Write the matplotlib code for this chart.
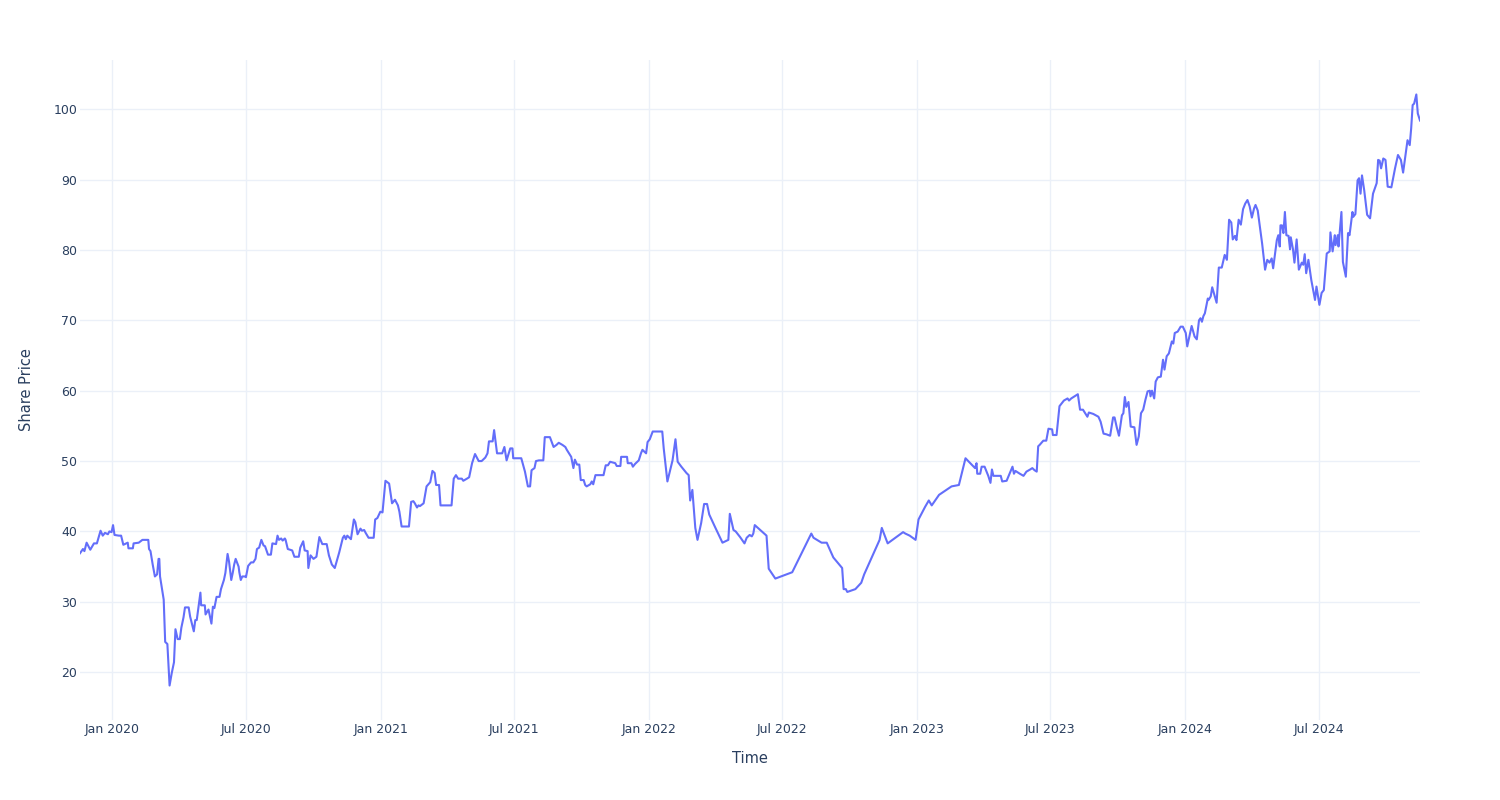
import pandas as pd
import matplotlib.pyplot as plt
import matplotlib.dates as mdates

# Share price series, days counted from 2020-01-01
start = pd.Timestamp('2020-01-01')

days = [
    -44, -40, -38, -35, -30, -25, -21, -16, -13, -10, -6, -4, -1, 1, 3, 9, 12, 15, 19, 21,
    22, 28, 29, 36, 41, 49, 50, 52, 55, 58, 61, 63, 64, 65, 70, 72, 75, 78, 81, 84,
    86, 89, 92, 94, 97, 99, 104, 106, 111, 113, 115, 120, 121, 126, 127, 131, 135, 137, 139, 142,
    146, 148, 152, 154, 157, 159, 162, 164, 166, 168, 172, 173, 175, 177, 181,
    182, 185, 189, 192, 195, 197, 200, 203, 206, 208, 212, 216, 218, 223, 225, 227, 230, 232, 235, 236,
    239, 245, 248, 254, 256, 260, 262, 266, 267, 270, 274, 278, 282, 286, 292, 295, 299, 303, 309, 314,
    316, 318, 320, 325, 329, 331, 334, 338, 340, 343, 345, 349, 356, 358, 361, 365, 368, 372, 377, 381,
    385, 389, 391, 394, 404, 407, 410,
    412, 415, 417, 419, 424, 428, 433, 436, 439, 441, 445, 447, 462, 465, 468, 471, 476, 478, 483, 486,
    490, 494, 499, 503, 508, 511, 513, 518, 520, 524, 531, 534, 537, 542, 545, 546, 557, 562, 566, 569,
    571, 575, 577, 581, 587, 589, 596, 601, 605, 608, 613, 617, 619, 622, 625, 628, 630, 633, 636, 638, 642,
    644, 646, 651, 653, 655, 658, 669, 672, 675, 678, 685, 687, 692, 693, 701, 702, 707, 709, 712, 717,
    720, 722, 725, 727, 729, 732, 736, 749, 751, 756, 763, 767, 770, 775, 782, 785, 787, 790, 794, 797,
    802, 806, 810, 813, 821, 831, 839, 841, 846, 849, 855, 861, 864, 868, 871, 873,
    875, 891, 894, 903, 926, 952, 955, 966, 973, 982, 994, 996, 999, 1001, 1012, 1020, 1024, 1045, 1048, 1056,
    1077, 1080, 1086, 1094, 1098,
    1107, 1112, 1116, 1126, 1143, 1153, 1162, 1173, 1175, 1177, 1178, 1182, 1184, 1188, 1193, 1196, 1198, 1200,
    1210, 1212, 1218, 1222, 1226, 1228, 1230, 1236, 1241, 1245, 1250, 1253, 1256, 1259, 1261, 1263, 1268,
    1272, 1275, 1280, 1281, 1286, 1290, 1296, 1301, 1303, 1306, 1315, 1318, 1322, 1328, 1330, 1336,
    1343, 1346, 1350, 1354, 1359, 1363, 1365, 1368, 1371, 1375, 1377, 1379, 1381, 1384, 1387, 1392, 1395, 1398,
    1401, 1404, 1407, 1410, 1413, 1414, 1416, 1419, 1421, 1424, 1428, 1431, 1433, 1436, 1439, 1443, 1445,
    1447, 1451, 1455, 1458, 1462, 1464, 1470, 1474, 1477, 1480, 1482, 1484, 1486, 1488, 1492, 1493, 1496,
    1498, 1501, 1504, 1507, 1511, 1515, 1518, 1521, 1524, 1526, 1529, 1531, 1534, 1537, 1540, 1543, 1546,
    1549, 1552, 1555, 1557, 1560, 1563, 1566,
    1570, 1573, 1576, 1579, 1581, 1586, 1588, 1590, 1591, 1593, 1595, 1597, 1599, 1602, 1604, 1605, 1608,
    1610, 1613, 1616, 1620, 1622, 1624, 1626, 1629, 1633, 1638, 1640, 1644, 1647, 1650, 1654, 1658, 1659,
    1662, 1665, 1666, 1669, 1670, 1674, 1676, 1680, 1683, 1685, 1689, 1690, 1693, 1696, 1698, 1700, 1702,
    1705, 1709, 1713, 1717, 1722, 1724, 1726, 1728, 1731, 1734, 1737, 1742, 1747, 1751, 1755, 1758, 1764,
    1767, 1769, 1771, 1773, 1776, 1778, 1781,
]

prices = [
    36.9, 37.5, 37.2, 38.4, 37.4, 38.3, 38.3, 40.1, 39.4, 39.8, 39.6, 40.0, 39.9, 40.9, 39.5, 39.4, 39.4, 38.1, 38.3, 38.4,
    37.6, 37.6, 38.3, 38.4, 38.8, 38.8, 37.5, 37.2, 35.3, 33.6, 33.9, 36.1, 36.1, 33.6, 30.3, 24.3, 24.0, 18.1, 19.9, 21.4,
    26.1, 24.7, 24.7, 26.3, 27.8, 29.2, 29.2, 27.9, 25.8, 27.4, 27.4, 31.3, 29.5, 29.5, 28.2, 28.9, 26.9, 29.3, 29.1, 30.7,
    30.7, 31.8, 33.1, 34.1, 36.8, 35.7, 33.1, 34.1, 35.3, 36.1, 35.0, 34.2, 33.1, 33.6, 33.6,
    33.5, 35.1, 35.6, 35.6, 36.1, 37.5, 37.7, 38.8, 38.0, 37.9, 36.7, 36.7, 38.3, 38.2, 39.4, 38.8, 39.0, 38.7, 39.0, 38.8,
    37.5, 37.3, 36.4, 36.4, 37.7, 38.6, 37.3, 37.2, 34.8, 36.6, 36.1, 36.4, 39.2, 38.2, 38.2, 36.6, 35.3, 34.8, 37.0, 39.1,
    39.4, 38.9, 39.4, 38.9, 41.7, 41.3, 39.6, 40.4, 40.1, 40.2, 39.8, 39.1, 39.1, 41.7, 41.9, 42.8, 42.7, 47.2, 46.8, 44.0,
    44.5, 43.7, 42.8, 40.7, 40.7, 44.2, 44.3,
    44.0, 43.4, 43.7, 43.6, 44.0, 46.4, 47.0, 48.6, 48.3, 46.6, 46.6, 43.7, 43.7, 47.5, 48.0, 47.5, 47.5, 47.2, 47.5, 47.7,
    49.7, 51.0, 50.0, 50.0, 50.5, 51.1, 52.8, 52.8, 54.4, 51.1, 51.1, 52.0, 50.1, 51.8, 51.8, 50.4, 50.4, 48.5, 46.4, 46.4,
    48.7, 49.0, 50.0, 50.1, 50.1, 53.4, 53.4, 52.0, 52.3, 52.6, 52.3, 52.0, 51.6, 51.1, 50.6, 49.0, 50.2, 49.5, 49.5, 47.3, 47.3,
    46.6, 46.4, 46.7, 47.1, 46.7, 48.0, 48.0, 49.4, 49.4, 49.9, 49.7, 49.3, 49.3, 50.6, 50.6, 49.7, 49.7, 49.2, 49.6, 50.1,
    51.1, 51.6, 51.3, 51.1, 52.7, 53.1, 54.2, 54.2, 51.8, 47.1, 50.1, 53.1, 49.9, 49.2, 48.3, 48.0, 44.4, 45.9, 40.5, 38.8,
    41.2, 43.9, 43.9, 42.4, 40.6, 38.4, 38.8, 42.5, 40.2, 40.0, 39.2, 38.3, 39.1, 39.5, 39.3, 39.7,
    40.9, 39.4, 34.7, 33.3, 34.2, 39.7, 39.1, 38.4, 38.4, 36.3, 34.8, 31.8, 31.8, 31.4, 31.8, 32.7, 33.9, 38.8, 40.5, 38.3,
    39.9, 39.7, 39.4, 38.8, 41.7,
    43.5, 44.4, 43.7, 45.2, 46.4, 46.6, 50.4, 49.2, 49.0, 49.7, 48.2, 48.2, 49.2, 49.2, 47.9, 46.9, 48.8, 47.9,
    47.9, 47.1, 47.2, 48.2, 49.2, 48.2, 48.6, 48.2, 47.9, 48.5, 48.8, 49.0, 48.7, 48.5, 52.1, 52.3, 52.9,
    52.9, 54.6, 54.5, 53.7, 53.7, 57.8, 58.6, 58.9, 58.6, 58.9, 59.5, 57.3, 57.3, 56.3, 56.9, 56.7,
    56.3, 55.6, 53.9, 53.8, 53.6, 56.2, 56.2, 54.8, 53.6, 56.5, 56.8, 59.1, 57.7, 58.4, 54.9, 54.8, 52.3, 53.5,
    56.8, 57.3, 58.7, 59.9, 60.0, 59.2, 60.0, 58.9, 61.3, 61.9, 62.0, 64.4, 63.0, 64.9, 65.3, 67.0, 66.7,
    68.2, 68.4, 69.1, 69.1, 68.2, 66.3, 69.2, 67.7, 67.3, 70.0, 70.3, 69.8, 70.6, 71.0, 73.1, 72.9, 73.4,
    74.7, 73.6, 72.5, 77.5, 77.5, 79.3, 78.6, 84.3, 83.9, 81.5, 82.0, 81.4, 84.3, 83.6, 85.8, 86.6, 87.1,
    86.2, 84.6, 85.9, 86.4, 85.6, 83.3, 80.9,
    77.2, 78.6, 78.2, 78.8, 77.4, 81.4, 82.1, 80.5, 83.5, 83.5, 82.4, 85.4, 82.1, 82.0, 80.1, 81.8, 80.1,
    78.2, 81.5, 77.2, 78.2, 77.9, 79.4, 76.7, 78.6, 75.7, 72.9, 74.8, 72.2, 73.9, 74.3, 79.5, 79.8, 82.5,
    79.8, 82.1, 80.7, 82.1, 80.5, 85.4, 78.3, 76.2, 82.4, 82.1, 85.4, 84.7, 85.1, 89.9, 90.2, 88.0, 90.6,
    88.5, 85.0, 84.5, 88.0, 89.5, 92.8, 92.7, 91.6, 93.0, 92.8, 89.0, 88.9, 91.6, 93.5, 92.8, 91.0, 95.6,
    94.9, 97.3, 100.6, 100.8, 102.1, 99.4, 98.4,
]

dates = start + pd.to_timedelta(days, unit='D')

plt.rcParams['font.family'] = ['DejaVu Sans']
text_color = '#2a3f5f'
grid_color = '#ebf0f8'

fig = plt.figure(figsize=(15, 8), dpi=100)
ax = fig.add_axes([80 / 1500, 80 / 800, 1340 / 1500, 660 / 800])

ax.plot(dates, prices, color='#636efa', linewidth=1.5, zorder=3)

ax.set_xlim(dates[0], dates[-1])
ax.set_ylim(13.2, 107.0)

ax.xaxis.set_major_locator(mdates.MonthLocator(bymonth=[1, 7]))
ax.xaxis.set_major_formatter(mdates.DateFormatter('%b %Y'))
ax.set_yticks([20, 30, 40, 50, 60, 70, 80, 90, 100])

ax.grid(True, color=grid_color, linewidth=1, zorder=0)
for s in ax.spines.values():
    s.set_visible(False)
ax.tick_params(axis='both', length=0, labelsize=9, labelcolor=text_color)
ax.tick_params(axis='x', pad=2)
ax.tick_params(axis='y', pad=2)

ax.set_xlabel('Time', fontsize=10.5, color=text_color, labelpad=11)
ax.set_ylabel('Share Price', fontsize=10.5, color=text_color, labelpad=14)

fig.savefig('out.png', dpi=100)
